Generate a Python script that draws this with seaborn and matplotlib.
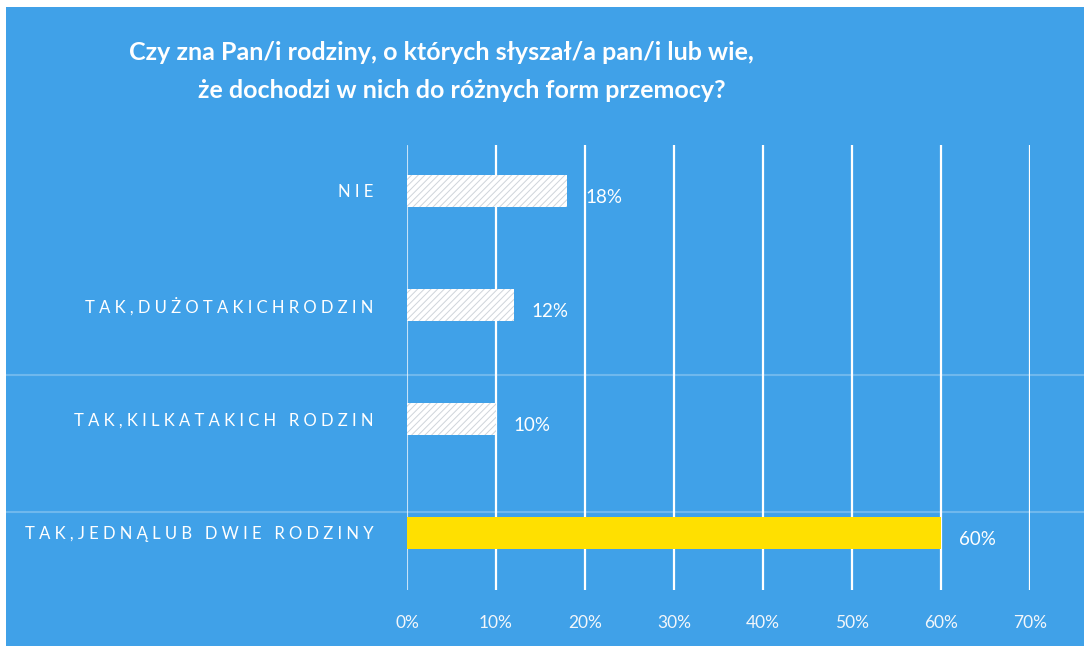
import numpy as np
import pandas as pd
import seaborn as sns
import matplotlib.pyplot as plt
from matplotlib.patches import Rectangle
from matplotlib.lines import Line2D

# dane
kategorie = ['NIE', 'TAK,DUŻOTAKICHRODZIN', 'TAK,KILKATAKICH RODZIN', 'TAK,JEDNĄLUB DWIE RODZINY']
wartosci = [18, 12, 10, 60]
ticki_x = [0, 10, 20, 30, 40, 50, 60, 70]
tytul = ['Czy zna Pan/i rodziny, o których słyszał/a pan/i lub wie,',
         'że dochodzi w nich do różnych form przemocy?']

df = pd.DataFrame({'kategoria': kategorie, 'procent': wartosci})

niebieski = '#40a1e8'
sns.set_style('white')
plt.rcParams['font.family'] = ['Lato', 'DejaVu Sans']
plt.rcParams['hatch.linewidth'] = 0.7

fig = plt.figure(figsize=(10.84, 6.46), dpi=100)
fig.patch.set_facecolor('white')
# tlo (skan ma biala ramke u gory i z lewej)
fig.patches.append(Rectangle((6/1084, 0), 1, 1 - 7/646, transform=fig.transFigure,
                             facecolor=niebieski, edgecolor='none', zorder=-10))
# jasne poziome pasy ze skanu
for yy in [375, 512]:
    fig.add_artist(Line2D([6/1084, 1], [1 - yy/646] * 2, transform=fig.transFigure,
                          color='white', lw=1.5, alpha=0.25, zorder=-5))

ax = fig.add_axes([407/1084, 1 - 590/646, (1030 - 407)/1084, (590 - 145)/646])
ax.set_facecolor('none')

sns.barplot(data=df, x='procent', y='kategoria', orient='h', width=0.28,
            color='white', ax=ax, zorder=3)

for i, p in enumerate(ax.patches):
    if i == 3:
        p.set_facecolor('#ffe000')
        p.set_edgecolor('#ffe000')
    else:
        p.set_facecolor('white')
        p.set_edgecolor('#cfd4da')
        p.set_hatch('/////')
    p.set_linewidth(0)

# siatka
for t in ticki_x:
    ax.axvline(t, color='white', lw=1.6 if t else 0.8, alpha=1 if t else 0.7, zorder=1)

ax.set_xlim(0, 70)
ax.set_ylim(3.5, -0.4)
for s in ax.spines.values():
    s.set_visible(False)

ax.set_xticks(ticki_x)
ax.set_xticklabels([f'{t}%' for t in ticki_x], color='#f2f6fa', fontsize=12.5)
ax.tick_params(axis='x', length=0, pad=18)

ax.set_yticks(range(len(kategorie)))
ax.set_yticklabels([' '.join(k) for k in kategorie], color='white', fontsize=12)
ax.tick_params(axis='y', length=0, pad=24)
ax.set_xlabel('')
ax.set_ylabel('')

for i, v in enumerate(wartosci):
    ax.text(v + 2.0, i + 0.06, f'{v}%', color='white', fontsize=13.5, va='center', ha='left')

# tytul w dwoch liniach (druga lekko przesunieta w prawo jak w oryginale)
fig.text(441/1084, 1 - 52/646, tytul[0], ha='center', va='center', color='white',
         fontsize=18, fontweight='bold')
fig.text(462/1084, 1 - 90/646, tytul[1], ha='center', va='center', color='white',
         fontsize=18, fontweight='bold')

plt.savefig('out.png', dpi=100)
